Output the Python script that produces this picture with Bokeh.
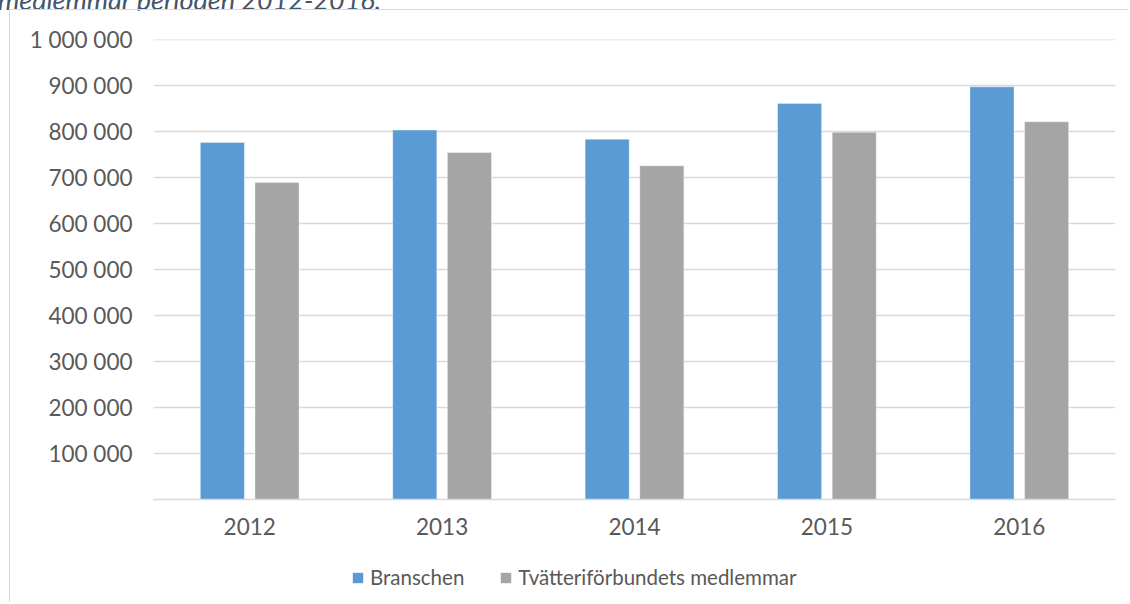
from bokeh.plotting import figure
from bokeh.models import (FactorRange, Range1d, FixedTicker, Legend, LegendItem,
                          ColumnDataSource, Div)
from bokeh.layouts import column
from bokeh.transform import dodge
from bokeh.embed import file_html
from bokeh.resources import INLINE

title_fragment = "medlemmar perioden 2012-2016."
years = ["2012", "2013", "2014", "2015", "2016"]
branschen = [777000, 804000, 784000, 862000, 898000]
medlemmar = [690000, 755000, 726000, 799000, 822000]
series_names = ["Branschen", "Tvätteriförbundets medlemmar"]
y_ticks = [100000, 200000, 300000, 400000, 500000, 600000, 700000, 800000, 900000, 1000000]
y_tick_labels = ["100 000", "200 000", "300 000", "400 000", "500 000",
                 "600 000", "700 000", "800 000", "900 000", "1 000 000"]

FONT = "Lato"
TEXT = "#595959"
GRID = "#D9D9D9"
BLUE = "#5B9BD5"
GRAY = "#A5A5A5"

src = ColumnDataSource(dict(year=years, b=branschen, m=medlemmar))

# main chart
p = figure(x_range=FactorRange(*years), y_range=Range1d(0, 1001000),
           width=1119, height=534, output_backend="svg", toolbar_location=None,
           min_border_left=143, min_border_right=14, min_border_top=29,
           min_border_bottom=45)
p.styles = {"border-left": "1.5px solid #D9D9D9", "border-top": "1.5px solid #D9D9D9",
            "margin-left": "9px"}
p.margin = 0
p.outline_line_color = None
p.background_fill_color = "white"
p.border_fill_color = "white"

r1 = p.vbar(x=dodge("year", -0.142, range=p.x_range), top="b", width=0.229, source=src,
            fill_color=BLUE, line_color="white", line_alpha=0.35, line_width=1)
r2 = p.vbar(x=dodge("year", 0.142, range=p.x_range), top="m", width=0.229, source=src,
            fill_color=GRAY, line_color="white", line_alpha=0.35, line_width=1)

p.xgrid.grid_line_color = None
p.ygrid.grid_line_color = GRID
p.ygrid.grid_line_width = 1.5
p.yaxis.ticker = FixedTicker(ticks=y_ticks)
p.yaxis.major_label_overrides = {t: l for t, l in zip(y_ticks, y_tick_labels)}
p.yaxis.axis_line_color = None
p.yaxis.major_tick_line_color = None
p.yaxis.minor_tick_line_color = None
p.yaxis.major_label_standoff = 15

p.xaxis.axis_line_color = GRID
p.xaxis.axis_line_width = 1.5
p.xaxis.major_tick_line_color = None
p.xaxis.minor_tick_line_color = None
p.xaxis.major_label_standoff = 12

for ax in (p.xaxis, p.yaxis):
    ax.major_label_text_font = FONT
    ax.major_label_text_font_size = "22.5px"
    ax.major_label_text_color = TEXT

# legend strip below the chart (same bordered box)
p2 = figure(x_range=Range1d(0, 1), y_range=Range1d(0, 1), width=1119, height=59,
            output_backend="svg", toolbar_location=None,
            x_axis_location=None, y_axis_location=None,
            min_border_left=0, min_border_right=0, min_border_top=0, min_border_bottom=0)
p2.styles = {"border-left": "1.5px solid #D9D9D9", "margin-left": "9px"}
p2.margin = 0
p2.outline_line_color = None
p2.grid.visible = False
p2.background_fill_color = "white"
p2.border_fill_color = "white"
# zero-height swatch renderers, only used for the legend glyphs
lr1 = p2.vbar(x=[0], top=[0], bottom=[0], width=0.01, fill_color=BLUE, line_color=None)
lr2 = p2.vbar(x=[0], top=[0], bottom=[0], width=0.01, fill_color=GRAY, line_color=None)

legend = Legend(items=[LegendItem(label=series_names[0], renderers=[lr1]),
                       LegendItem(label=series_names[1], renderers=[lr2])],
                orientation="horizontal", location=(198, 13),
                glyph_width=13, glyph_height=13, label_height=20,
                label_standoff=6, spacing=35, padding=0, margin=0,
                border_line_color=None, background_fill_alpha=0,
                label_text_font=FONT, label_text_font_size="20.5px",
                label_text_color=TEXT)
p2.add_layout(legend, "center")

div = Div(text=title_fragment, width=1120, height=9, margin=0,
          styles={"position": "relative", "top": "-16px", "left": "-2px",
                  "font-family": "Lato", "font-style": "italic", "font-size": "27px",
                  "color": "#44546A", "white-space": "nowrap", "line-height": "1.2"})

layout = column(div, p, p2, spacing=0)
open("out.html", "w").write(file_html(layout, INLINE))
